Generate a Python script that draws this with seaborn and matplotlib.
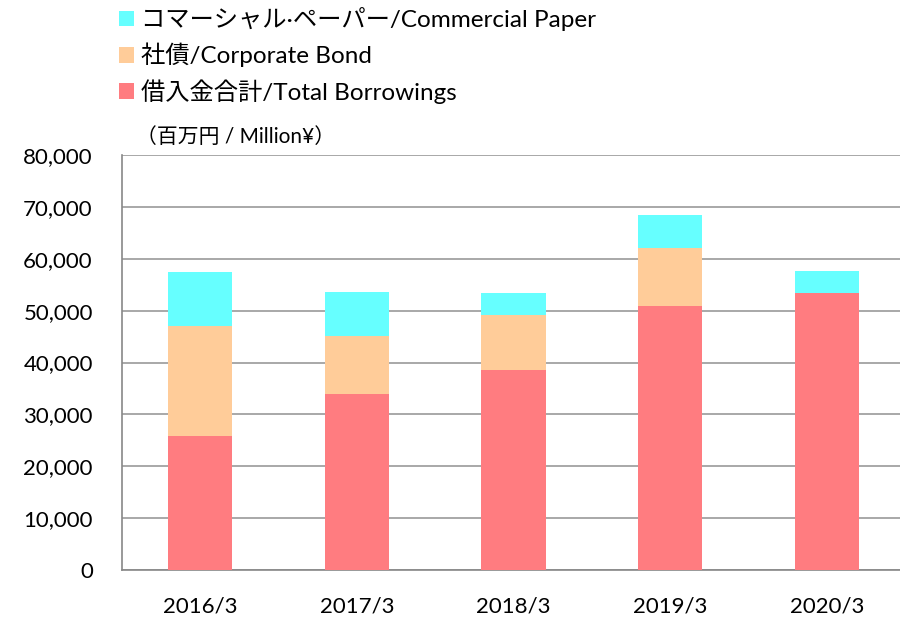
import pandas as pd
import matplotlib
matplotlib.use("Agg")
import matplotlib.pyplot as plt
import seaborn as sns
from matplotlib.patches import Patch
from matplotlib.ticker import FuncFormatter, MultipleLocator

# values (million yen)
periods = ["2016/3", "2017/3", "2018/3", "2019/3", "2020/3"]
borrowings = [25900, 34000, 38500, 50900, 53400]
bonds = [21200, 11150, 10600, 11100, 0]
cp = [10350, 8350, 4300, 6350, 4300]

labels = ["コマーシャル·ペーパー/Commercial Paper",
          "社債/Corporate Bond",
          "借入金合計/Total Borrowings"]
colors = ["#66FFFF", "#FFCC99", "#FF7C80"]

df = pd.DataFrame({"period": periods, "borrowings": borrowings,
                   "bonds": bonds, "cp": cp})
df["lvl2"] = df["borrowings"] + df["bonds"]
df["lvl3"] = df["lvl2"] + df["cp"]

sns.set_style("white")
plt.rcParams["font.family"] = ["Lato", "Noto Sans CJK JP", "DejaVu Sans"]
plt.rcParams["text.color"] = "black"
plt.rcParams["xtick.labelcolor"] = "black"
plt.rcParams["ytick.labelcolor"] = "black"

fig = plt.figure(figsize=(9, 6.18), dpi=100)
ax = fig.add_axes([122 / 900, 1 - 570 / 618, 783 / 900, 415 / 618])

# draw cumulative stacks from the top down so lower segments overlay
for col, c in zip(["lvl3", "lvl2", "borrowings"], colors):
    sns.barplot(data=df, x="period", y=col, color=c, width=0.41,
                saturation=1, linewidth=0, ax=ax, zorder=3)

ax.set_ylim(0, 80000)
ax.set_xlim(-0.5, 4.5)
ax.yaxis.set_major_locator(MultipleLocator(10000))
ax.yaxis.set_major_formatter(FuncFormatter(lambda v, p: f"{int(v):,}"))
ax.grid(axis="y", color="#999999", linewidth=1.2, zorder=0)
ax.set_axisbelow(True)
ax.set_xlabel("")
ax.set_ylabel("")

for s in ["top", "right"]:
    ax.spines[s].set_visible(False)
for s in ["left", "bottom"]:
    ax.spines[s].set_color("#888888")
    ax.spines[s].set_linewidth(1.2)

ax.set_xticks([i + 0.5 for i in range(-1, 5)], minor=True)
ax.tick_params(axis="x", which="major", length=0, labelsize=16, pad=19)
ax.tick_params(axis="x", which="minor", length=5, width=1.2, color="#888888")
ax.tick_params(axis="y", length=5, width=1.2, color="#888888", labelsize=16, pad=16)
ax.set_xticklabels(periods)

handles = [Patch(facecolor=c, edgecolor="none") for c in colors]
fig.legend(handles, labels, loc="upper left", bbox_to_anchor=(104 / 900, 1.012),
           frameon=False, fontsize=17.5, handlelength=0.62, handleheight=0.62,
           handletextpad=0.3, labelspacing=0.48, borderaxespad=0.2)

fig.text(136 / 900, 1 - 137 / 618, "（百万円 / Million¥）", fontsize=15,
         va="center", ha="left")

fig.savefig("out.png", dpi=100)
